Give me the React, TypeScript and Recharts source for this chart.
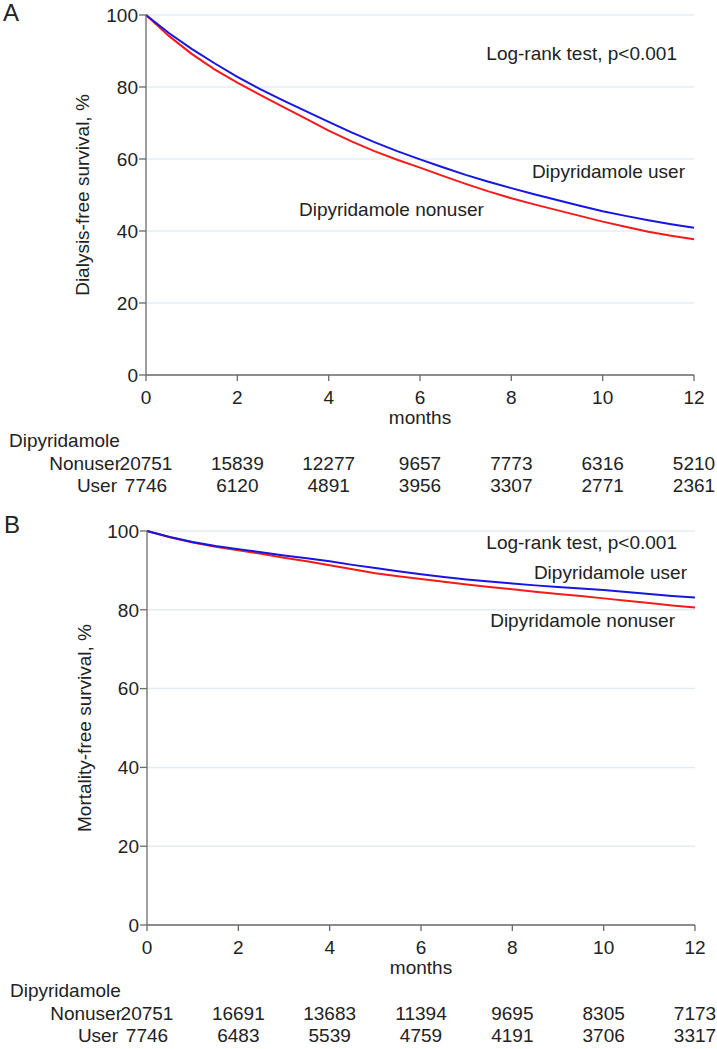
import { LineChart, Line, XAxis, YAxis, CartesianGrid, Customized } from 'recharts'

const months = [0, 0.5, 1, 1.5, 2, 2.5, 3, 3.5, 4, 4.5, 5, 5.5, 6, 6.5, 7, 7.5, 8, 8.5, 9, 9.5, 10, 10.5, 11, 11.5, 12]

// panel A: dialysis-free survival, %
const dialysisUser = [100, 95.0, 90.6, 86.6, 82.8, 79.4, 76.3, 73.3, 70.3, 67.4, 64.7, 62.2, 59.9, 57.7, 55.6, 53.7, 51.9, 50.2, 48.6, 47.0, 45.5, 44.2, 43.0, 41.9, 40.9]
const dialysisNonuser = [100, 94.2, 89.2, 84.9, 81.2, 77.8, 74.5, 71.2, 67.9, 64.9, 62.2, 59.8, 57.6, 55.3, 53.1, 51.0, 49.1, 47.4, 45.8, 44.2, 42.6, 41.2, 39.8, 38.7, 37.7]

// panel B: mortality-free survival, %
const mortalityUser = [100, 98.5, 97.2, 96.2, 95.4, 94.6, 93.8, 93.1, 92.3, 91.4, 90.6, 89.8, 89.0, 88.3, 87.7, 87.2, 86.7, 86.2, 85.8, 85.4, 85.0, 84.5, 84.0, 83.5, 83.1]
const mortalityNonuser = [100, 98.4, 97.1, 96.0, 95.1, 94.2, 93.2, 92.3, 91.3, 90.3, 89.3, 88.5, 87.8, 87.1, 86.4, 85.8, 85.2, 84.6, 84.0, 83.5, 82.9, 82.3, 81.7, 81.1, 80.6]

// numbers at risk
const riskMonths = [0, 2, 4, 6, 8, 10, 12]
const dialysisRiskNonuser = [20751, 15839, 12277, 9657, 7773, 6316, 5210]
const dialysisRiskUser = [7746, 6120, 4891, 3956, 3307, 2771, 2361]
const mortalityRiskNonuser = [20751, 16691, 13683, 11394, 9695, 8305, 7173]
const mortalityRiskUser = [7746, 6483, 5539, 4759, 4191, 3706, 3317]

const yTicks = [0, 20, 40, 60, 80, 100]
const xTicks = riskMonths

const FONT = '"Liberation Sans", Arial, sans-serif'
const TEXT = '#222'
const AXIS = '#6b6b6b'
const BLUE = '#1616e0'
const RED = '#f51a1a'

type Note = { text: string; x: number; y: number; anchor: 'start' | 'end'; size?: number }

function Notes({ items }: { items: Note[] }) {
  return (
    <g>
      {items.map((n) => (
        <text
          key={n.text}
          x={n.x}
          y={n.y}
          textAnchor={n.anchor}
          fontSize={n.size ?? 19}
          fill={TEXT}
          fontFamily={FONT}
        >
          {n.text}
        </text>
      ))}
    </g>
  )
}

function RiskTick(props: any) {
  const { x, y, payload, nonuser, user } = props
  const i = riskMonths.indexOf(payload.value)
  const common = { fill: TEXT, fontSize: 19, fontFamily: FONT }
  return (
    <g>
      <text x={x} y={y + 22.5} textAnchor="middle" {...common}>
        {payload.value}
      </text>
      <text x={x} y={y + 89} textAnchor="middle" {...common}>
        {nonuser[i]}
      </text>
      <text x={x} y={y + 111} textAnchor="middle" {...common}>
        {user[i]}
      </text>
      {i === 0 && (
        <>
          <text x={x - 137} y={y + 66} textAnchor="start" {...common}>
            Dipyridamole
          </text>
          <text x={x - 25} y={y + 89} textAnchor="end" {...common}>
            Nonuser
          </text>
          <text x={x - 29} y={y + 111} textAnchor="end" {...common}>
            User
          </text>
        </>
      )}
    </g>
  )
}

interface PanelProps {
  top: number
  marginTop: number
  plotHeight: number
  axisWidth: number
  marginRight: number
  yLabel: string
  yLabelOffset: number
  user: number[]
  nonuser: number[]
  riskNonuser: number[]
  riskUser: number[]
  notes: Note[]
}

function SurvivalPanel(p: PanelProps) {
  const data = months.map((m, i) => ({ month: m, user: p.user[i], nonuser: p.nonuser[i] }))
  const xHeight = 125
  return (
    <div style={{ position: 'absolute', left: 0, top: p.top }}>
      <LineChart
        width={717}
        height={p.marginTop + p.plotHeight + xHeight}
        data={data}
        margin={{ top: p.marginTop, right: p.marginRight, left: 0, bottom: 0 }}
        style={{ fontFamily: FONT }}
      >
        <CartesianGrid vertical={false} stroke="#e4ecf0" strokeWidth={1.5} />
        <XAxis
          dataKey="month"
          type="number"
          domain={[0, 12]}
          ticks={xTicks}
          height={xHeight}
          tickSize={6}
          tickMargin={0}
          axisLine={{ stroke: AXIS, strokeWidth: 1.3 }}
          tickLine={{ stroke: AXIS, strokeWidth: 1.3 }}
          tick={<RiskTick nonuser={p.riskNonuser} user={p.riskUser} />}
          label={{ value: 'months', position: 'insideTop', offset: 35.5, fill: TEXT, fontSize: 19 }}
        />
        <YAxis
          domain={[0, 100]}
          ticks={yTicks}
          width={p.axisWidth}
          tickSize={7}
          tickMargin={1}
          axisLine={{ stroke: AXIS, strokeWidth: 1.3 }}
          tickLine={{ stroke: AXIS, strokeWidth: 1.3 }}
          tick={{ fill: TEXT, fontSize: 19 }}
          label={{
            value: p.yLabel,
            angle: -90,
            position: 'insideLeft',
            offset: p.yLabelOffset,
            style: { textAnchor: 'middle', fill: TEXT, fontSize: 19 },
          }}
        />
        <Line
          type="linear"
          dataKey="nonuser"
          stroke={RED}
          strokeWidth={2}
          dot={false}
          isAnimationActive={false}
        />
        <Line
          type="linear"
          dataKey="user"
          stroke={BLUE}
          strokeWidth={2}
          dot={false}
          isAnimationActive={false}
        />
        <Customized component={<Notes items={p.notes} />} />
      </LineChart>
    </div>
  )
}

const notesA: Note[] = [
  { text: 'A', x: 3, y: 21, anchor: 'start', size: 24 },
  { text: 'Log-rank test, p<0.001', x: 677, y: 60, anchor: 'end' },
  { text: 'Dipyridamole user', x: 685, y: 177.5, anchor: 'end' },
  { text: 'Dipyridamole nonuser', x: 299, y: 216, anchor: 'start' },
]

const notesB: Note[] = [
  { text: 'B', x: 4, y: 25, anchor: 'start', size: 24 },
  { text: 'Log-rank test, p<0.001', x: 677, y: 40.5, anchor: 'end' },
  { text: 'Dipyridamole user', x: 687, y: 70.5, anchor: 'end' },
  { text: 'Dipyridamole nonuser', x: 675, y: 119, anchor: 'end' },
]

export default function App() {
  return (
    <div style={{ position: 'absolute', left: 0, top: 0, width: 717, height: 1049, background: '#fff' }}>
      <SurvivalPanel
        top={0}
        marginTop={15}
        plotHeight={360}
        axisWidth={146}
        marginRight={23}
        yLabel="Dialysis-free survival, %"
        yLabelOffset={82}
        user={dialysisUser}
        nonuser={dialysisNonuser}
        riskNonuser={dialysisRiskNonuser}
        riskUser={dialysisRiskUser}
        notes={notesA}
      />
      <SurvivalPanel
        top={508}
        marginTop={23}
        plotHeight={394}
        axisWidth={147}
        marginRight={22}
        yLabel="Mortality-free survival, %"
        yLabelOffset={84}
        user={mortalityUser}
        nonuser={mortalityNonuser}
        riskNonuser={mortalityRiskNonuser}
        riskUser={mortalityRiskUser}
        notes={notesB}
      />
    </div>
  )
}
